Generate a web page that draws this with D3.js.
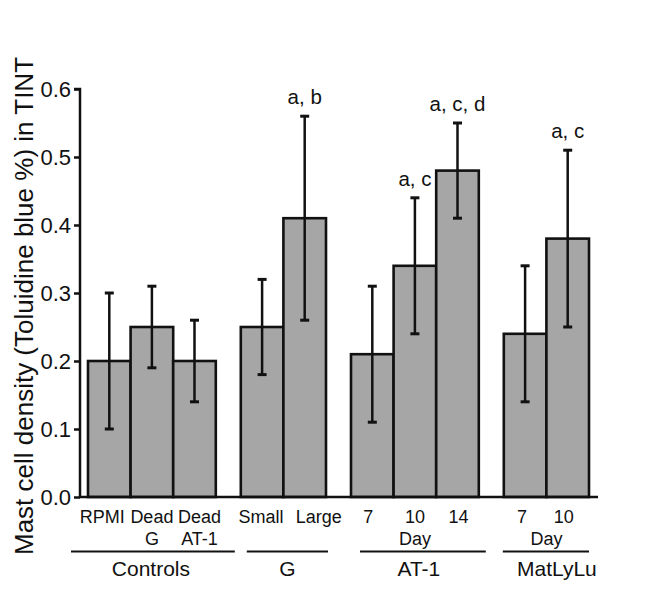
<!DOCTYPE html>
<html>
<head>
<meta charset="utf-8">
<script src="https://cdn.jsdelivr.net/npm/d3@7/dist/d3.min.js"></script>
<style>
  html, body { margin: 0; padding: 0; background: #fff; }
  svg text { font-family: "Liberation Sans", Arial, Helvetica, sans-serif; fill: #111; }
</style>
</head>
<body>
<svg id="chart" width="650" height="591"></svg>
<script>
// ---- data ----
const groups = ["Controls", "G", "AT-1", "MatLyLu"];
const groupSubLabels = ["", "", "Day", "Day"];
const barGroups = ["Controls", "Controls", "Controls", "G", "G", "AT-1", "AT-1", "AT-1", "MatLyLu", "MatLyLu"];
const barLabels = [["RPMI"], ["Dead", "G"], ["Dead", "AT-1"], ["Small"], ["Large"], ["7"], ["10"], ["14"], ["7"], ["10"]];
const means   = [0.20, 0.25, 0.20, 0.25, 0.41, 0.21, 0.34, 0.48, 0.24, 0.38];
const errLow  = [0.10, 0.19, 0.14, 0.18, 0.26, 0.11, 0.24, 0.41, 0.14, 0.25];
const errHigh = [0.30, 0.31, 0.26, 0.32, 0.56, 0.31, 0.44, 0.55, 0.34, 0.51];
const annotations = ["", "", "", "", "a, b", "", "a, c", "a, c, d", "", "a, c"];
const yTicks = [0.0, 0.1, 0.2, 0.3, 0.4, 0.5, 0.6];
const yTitle = "Mast cell density (Toluidine blue %) in TINT";

// ---- layout ----
const groupGap = 0.587;           // gap between groups in bar widths
const labelDx = [-7, 0, 5, -1, 14, -4, 0, 1, -3, -4];
const groupLinePad = [[17, 19], [-6, 2], [-9, 7], [1, 0]];
const groupLabelDx = [-2, 0, -4, 11];

const svg = d3.select("#chart");
const y = d3.scaleLinear().domain([0, 0.6]).range([497, 89]);

const slots = barGroups.map((g, i) => i + groupGap * groups.indexOf(g));
const totalUnits = barGroups.length + groupGap * (groups.length - 1);
const x = d3.scaleLinear().domain([0, totalUnits]).range([88, 589]);
const bw = x(1) - x(0);

// y axis
const yAxis = d3.axisLeft(y).tickValues(yTicks).tickFormat(d3.format(".1f")).tickSize(6).tickPadding(3);
const gy = svg.append("g").attr("transform", "translate(80,0)").call(yAxis);
gy.select(".domain").attr("stroke", "#111").attr("stroke-width", 2.5).attr("d", `M-6,${y(0.6)}H0V${y(0)}`);
gy.selectAll(".tick line").attr("stroke", "#111").attr("stroke-width", 2.5);
gy.selectAll(".tick text").style("font-size", "22px").attr("fill", "#111").attr("dy", "0.34em");

// bars
svg.append("g").selectAll("rect").data(means).join("rect")
  .attr("x", (d, i) => x(slots[i]))
  .attr("width", bw)
  .attr("y", d => y(d))
  .attr("height", d => y(0) - y(d))
  .attr("fill", "#a6a6a6")
  .attr("stroke", "#111")
  .attr("stroke-width", 2.6);

// bottom axis line
svg.append("line")
  .attr("x1", 79).attr("x2", 598)
  .attr("y1", y(0)).attr("y2", y(0))
  .attr("stroke", "#111").attr("stroke-width", 2.6);

// error bars
const eb = svg.append("g").attr("stroke", "#111");
means.forEach((m, i) => {
  const cx = x(slots[i] + 0.5);
  eb.append("line").attr("x1", cx).attr("x2", cx).attr("y1", y(errLow[i])).attr("y2", y(errHigh[i])).attr("stroke-width", 2.5);
  [errLow[i], errHigh[i]].forEach(v => {
    eb.append("line").attr("x1", cx - 4.5).attr("x2", cx + 4.5).attr("y1", y(v)).attr("y2", y(v)).attr("stroke-width", 3);
  });
});

// annotations
svg.append("g").selectAll("text").data(annotations).join("text")
  .attr("x", (d, i) => x(slots[i] + 0.5))
  .attr("y", (d, i) => y(errHigh[i]) - 12)
  .attr("text-anchor", "middle")
  .style("font-size", "20.5px")
  .text(d => d);

// category labels
const cl = svg.append("g");
barLabels.forEach((lines, i) => {
  lines.forEach((t, j) => {
    cl.append("text")
      .attr("x", x(slots[i] + 0.5) + labelDx[i])
      .attr("y", 523 + j * 22)
      .attr("text-anchor", "middle")
      .style("font-size", "18px")
      .text(t);
  });
});

// group lines, sublabels, labels
groups.forEach((g, gi) => {
  const idx = barGroups.map((b, i) => b === g ? i : -1).filter(i => i >= 0);
  const x0 = x(slots[idx[0]]);
  const x1 = x(slots[idx[idx.length - 1]] + 1);
  const lx0 = x0 - groupLinePad[gi][0];
  const lx1 = x1 + groupLinePad[gi][1];
  svg.append("line").attr("x1", lx0).attr("x2", lx1).attr("y1", 551.5).attr("y2", 551.5)
    .attr("stroke", "#111").attr("stroke-width", 2.2);
  if (groupSubLabels[gi]) {
    svg.append("text").attr("x", (x0 + x1) / 2).attr("y", 545).attr("text-anchor", "middle")
      .style("font-size", "18px").text(groupSubLabels[gi]);
  }
  svg.append("text").attr("x", (lx0 + lx1) / 2 + groupLabelDx[gi]).attr("y", 576).attr("text-anchor", "middle")
    .style("font-size", "21px").text(g);
});

// y title
svg.append("text")
  .attr("transform", `translate(33,306) rotate(-90)`)
  .attr("text-anchor", "middle")
  .style("font-size", "26px")
  .text(yTitle);
</script>
</body>
</html>
